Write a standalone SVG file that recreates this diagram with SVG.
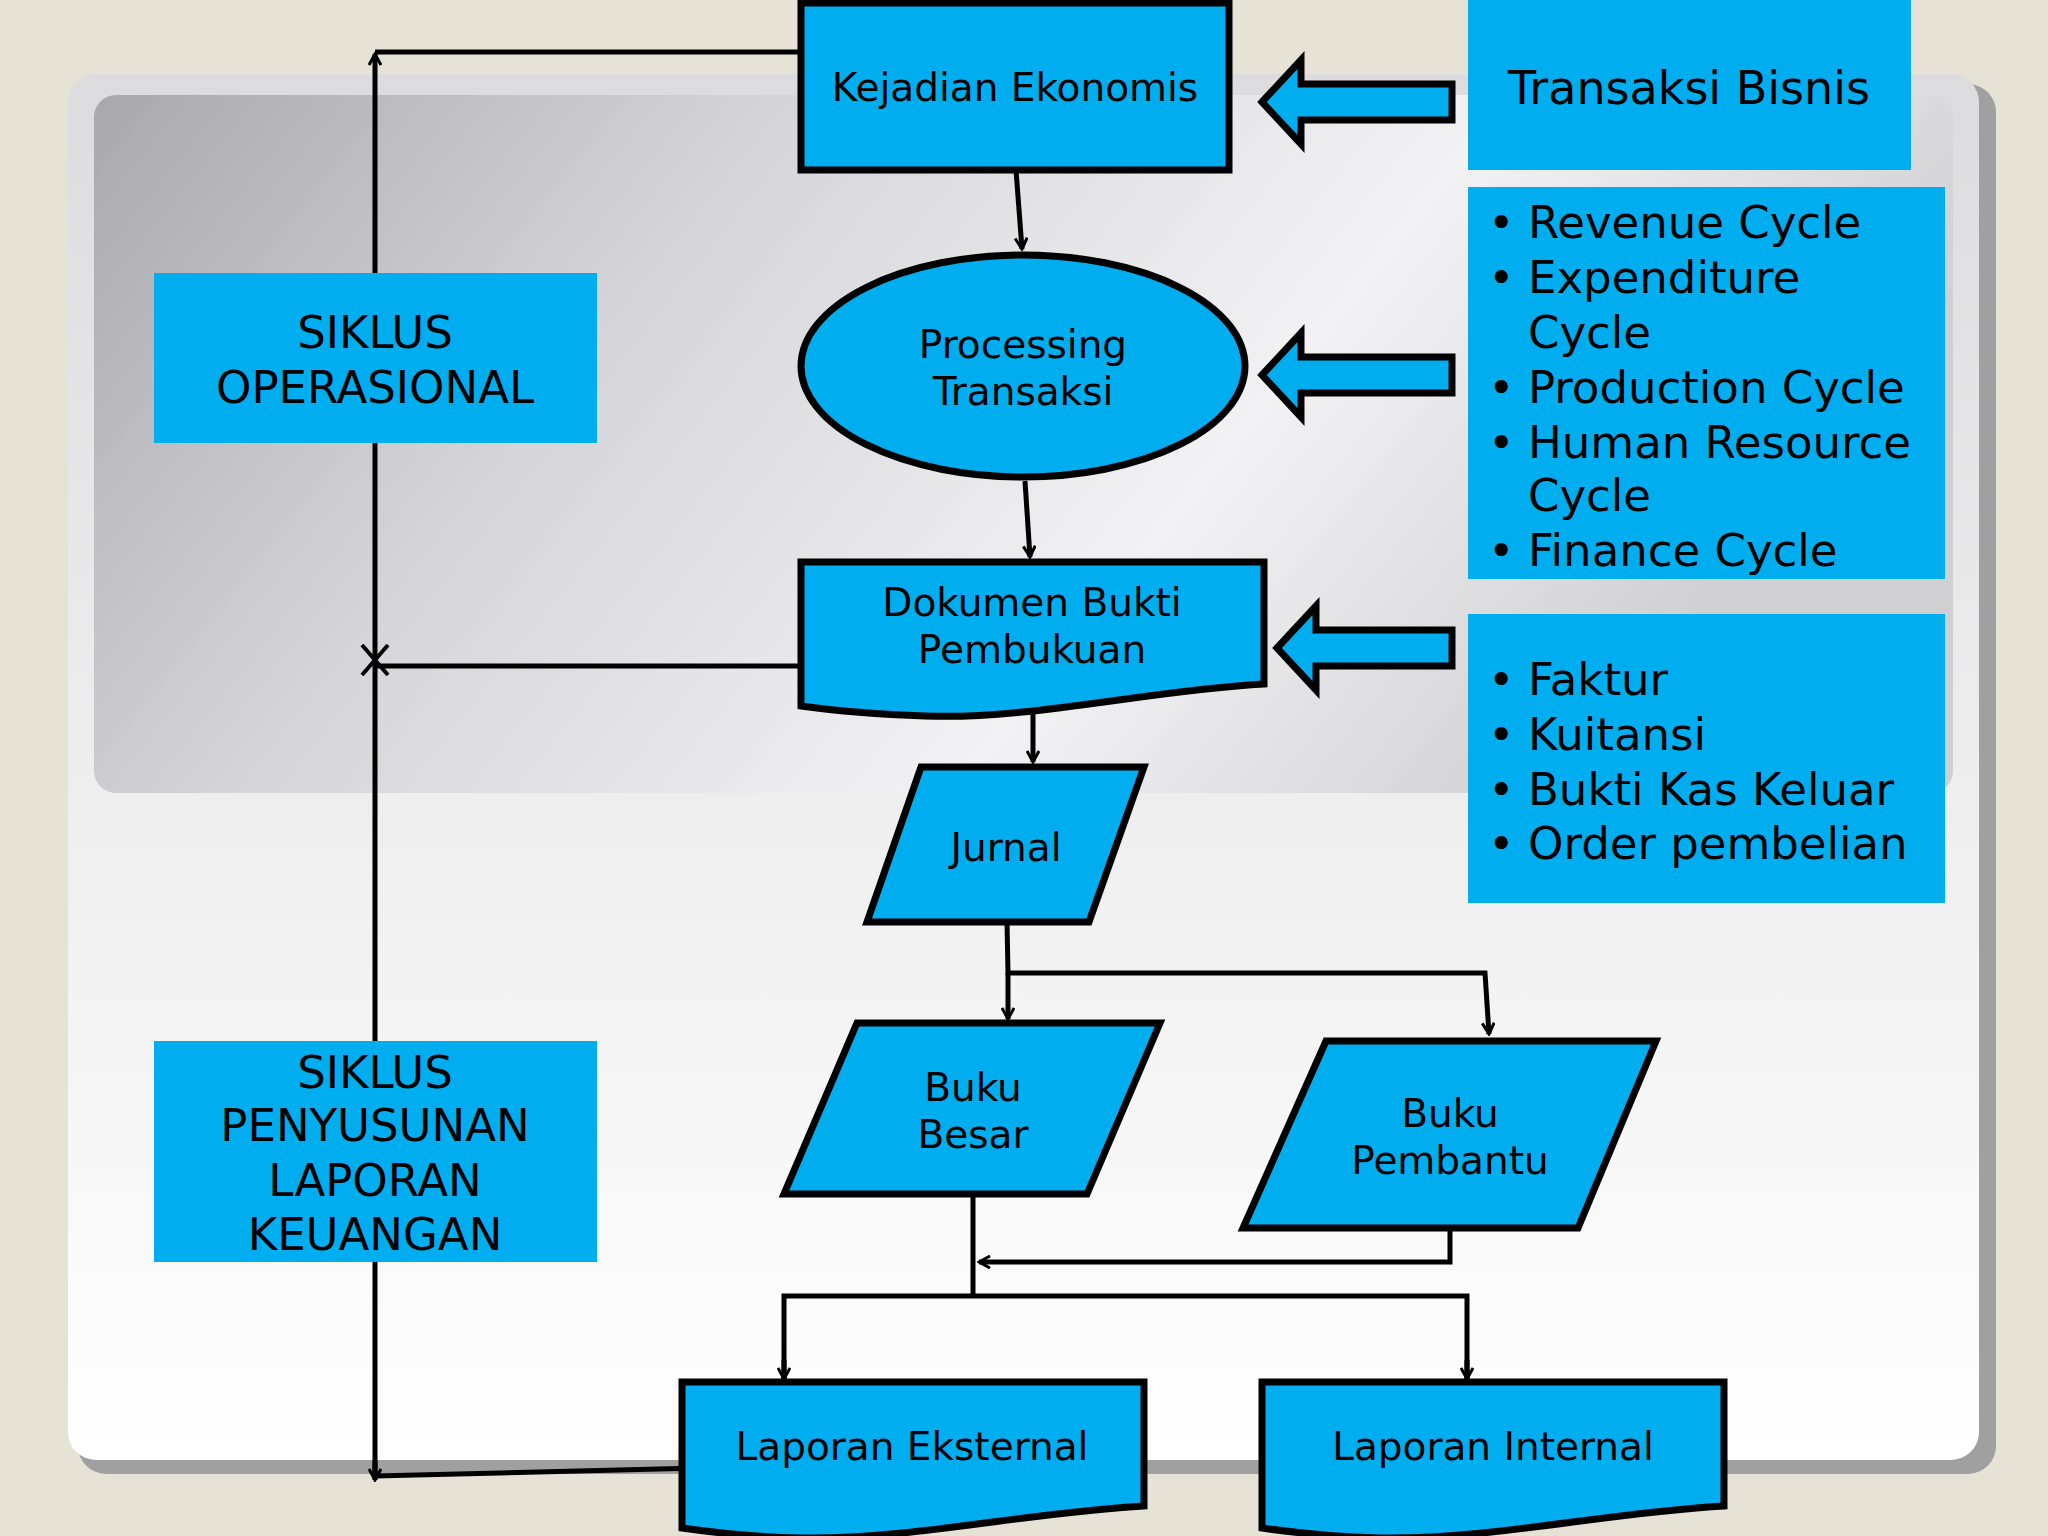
<svg xmlns="http://www.w3.org/2000/svg" width="2048" height="1536" viewBox="0 0 2048 1536">
<defs>
<linearGradient id="g" x1="0" y1="0" x2="1" y2="0.3"><stop offset="0" stop-color="#a9a9ad"/><stop offset="0.35" stop-color="#d6d6da"/><stop offset="0.7" stop-color="#f2f2f4"/><stop offset="1" stop-color="#d0d0d3"/></linearGradient>
<linearGradient id="p" x1="0" y1="0" x2="0" y2="1"><stop offset="0" stop-color="#dcdcde"/><stop offset="1" stop-color="#ffffff"/></linearGradient>
<marker id="a" markerWidth="14" markerHeight="14" refX="12" refY="7" orient="auto" markerUnits="userSpaceOnUse"><path d="M1,1 L12,7 L1,13" fill="none" stroke="#000" stroke-width="3"/></marker>
</defs>
<style>
.n{fill:#00adef;stroke:#000;stroke-width:7}
.b{fill:#00adef}
.t{font-family:"DejaVu Sans",sans-serif;font-size:39px;fill:#000;text-anchor:middle}
.l{font-family:"DejaVu Sans",sans-serif;font-size:45px;fill:#000}
.c{fill:none;stroke:#000;stroke-width:5}
</style>
<rect width="2048" height="1536" fill="#e6e3d6"/>
<rect x="78" y="84" width="1918" height="1390" rx="28" fill="#a0a0a0"/>
<rect x="68" y="74" width="1911" height="1386" rx="28" fill="url(#p)"/>
<rect x="94" y="95" width="1859" height="698" rx="22" fill="url(#g)"/>
<g id="connectors">
<polyline class="c" points="801,52 375,52"/>
<line class="c" x1="375" y1="1476" x2="375" y2="54" marker-end="url(#a)"/>
<polyline class="c" points="801,666 375,666"/>
<path d="M362,645 L388,675 M388,645 L362,675" stroke="#000" stroke-width="4"/>
<polyline class="c" points="699,1468 375,1476" />
<line class="c" x1="375" y1="1460" x2="375" y2="1480" marker-end="url(#a)"/>
<line class="c" x1="1016" y1="170" x2="1022" y2="249" marker-end="url(#a)"/>
<line class="c" x1="1025" y1="481" x2="1030" y2="557" marker-end="url(#a)"/>
<line class="c" x1="1033" y1="712" x2="1033" y2="762" marker-end="url(#a)"/>
<polyline class="c" points="1007,922 1008,973 1485,973 1489,1034" marker-end="url(#a)"/>
<line class="c" x1="1008" y1="973" x2="1008" y2="1019" marker-end="url(#a)"/>
<line class="c" x1="973" y1="1194" x2="973" y2="1296"/>
<polyline class="c" points="1450,1228 1450,1262 979,1262" marker-end="url(#a)"/>
<polyline class="c" points="784,1379 784,1296 1467,1296 1467,1379"/>
<line class="c" x1="784" y1="1360" x2="784" y2="1379" marker-end="url(#a)"/>
<line class="c" x1="1467" y1="1360" x2="1467" y2="1379" marker-end="url(#a)"/>
</g>
<g id="arrows">
<path class="n" d="M1262,102 L1301,60 L1301,84 L1452,84 L1452,120 L1301,120 L1301,144 Z"/>
<path class="n" d="M1262,375 L1301,333 L1301,357 L1452,357 L1452,393 L1301,393 L1301,417 Z"/>
<path class="n" d="M1277,648 L1316,606 L1316,630 L1452,630 L1452,666 L1316,666 L1316,690 Z"/>
</g>
<g id="kejadian"><rect class="n" x="801" y="3" width="428" height="167"/><text class="t" x="1015" y="101">Kejadian Ekonomis</text></g>
<g id="transaksi"><rect class="b" x="1468" y="0" width="443" height="170"/><text class="t" x="1689" y="104" style="font-size:46px">Transaksi Bisnis</text></g>
<g id="processing"><ellipse class="n" cx="1023" cy="366" rx="222" ry="111"/><text class="t" x="1023" y="358">Processing</text><text class="t" x="1023" y="405">Transaksi</text></g>
<g id="dokumen"><path class="n" d="M801,562 H1264 V684 C1150,690 1030,720 925,716 C870,714 830,710 801,706 Z"/><text class="t" x="1032" y="616">Dokumen Bukti</text><text class="t" x="1032" y="663">Pembukuan</text></g>
<g id="jurnal"><polygon class="n" points="921,767 1144,767 1089,922 867,922"/><text class="t" x="1006" y="861">Jurnal</text></g>
<g id="bukubesar"><polygon class="n" points="857,1023 1160,1023 1087,1194 784,1194"/><text class="t" x="973" y="1101">Buku</text><text class="t" x="973" y="1148">Besar</text></g>
<g id="bukupembantu"><polygon class="n" points="1326,1041 1656,1041 1578,1228 1243,1228"/><text class="t" x="1450" y="1127">Buku</text><text class="t" x="1450" y="1174">Pembantu</text></g>
<g id="lapeks"><path class="n" d="M682,1382 H1144 V1506 C1030,1512 910,1540 800,1538 C750,1537 710,1532 682,1528 Z"/><text class="t" x="912" y="1460">Laporan Eksternal</text></g>
<g id="lapint"><path class="n" d="M1262,1382 H1724 V1506 C1610,1512 1490,1540 1380,1538 C1330,1537 1290,1532 1262,1528 Z"/><text class="t" x="1493" y="1460">Laporan Internal</text></g>
<g id="siklusop"><rect class="b" x="154" y="273" width="443" height="170"/><text class="t" x="375" y="348" style="font-size:45px">SIKLUS</text><text class="t" x="375" y="403" style="font-size:45px">OPERASIONAL</text></g>
<g id="sikluslap"><rect class="b" x="154" y="1041" width="443" height="221"/><text class="t" x="375" y="1088" style="font-size:45px">SIKLUS</text><text class="t" x="375" y="1141" style="font-size:45px">PENYUSUNAN</text><text class="t" x="375" y="1196" style="font-size:45px">LAPORAN</text><text class="t" x="375" y="1250" style="font-size:45px">KEUANGAN</text></g>
<g id="cycles"><rect class="b" x="1468" y="187" width="477" height="392"/>
<g class="l"><text x="1488" y="238">•</text><text x="1528" y="238">Revenue Cycle</text><text x="1488" y="293">•</text><text x="1528" y="293">Expenditure</text><text x="1528" y="348">Cycle</text><text x="1488" y="403">•</text><text x="1528" y="403">Production Cycle</text><text x="1488" y="458">•</text><text x="1528" y="458">Human Resource</text><text x="1528" y="511">Cycle</text><text x="1488" y="566">•</text><text x="1528" y="566">Finance Cycle</text></g></g>
<g id="docs"><rect class="b" x="1468" y="614" width="477" height="289"/>
<g class="l"><text x="1488" y="695">•</text><text x="1528" y="695">Faktur</text><text x="1488" y="750">•</text><text x="1528" y="750">Kuitansi</text><text x="1488" y="805">•</text><text x="1528" y="805">Bukti Kas Keluar</text><text x="1488" y="859">•</text><text x="1528" y="859">Order pembelian</text></g></g>
</svg>
